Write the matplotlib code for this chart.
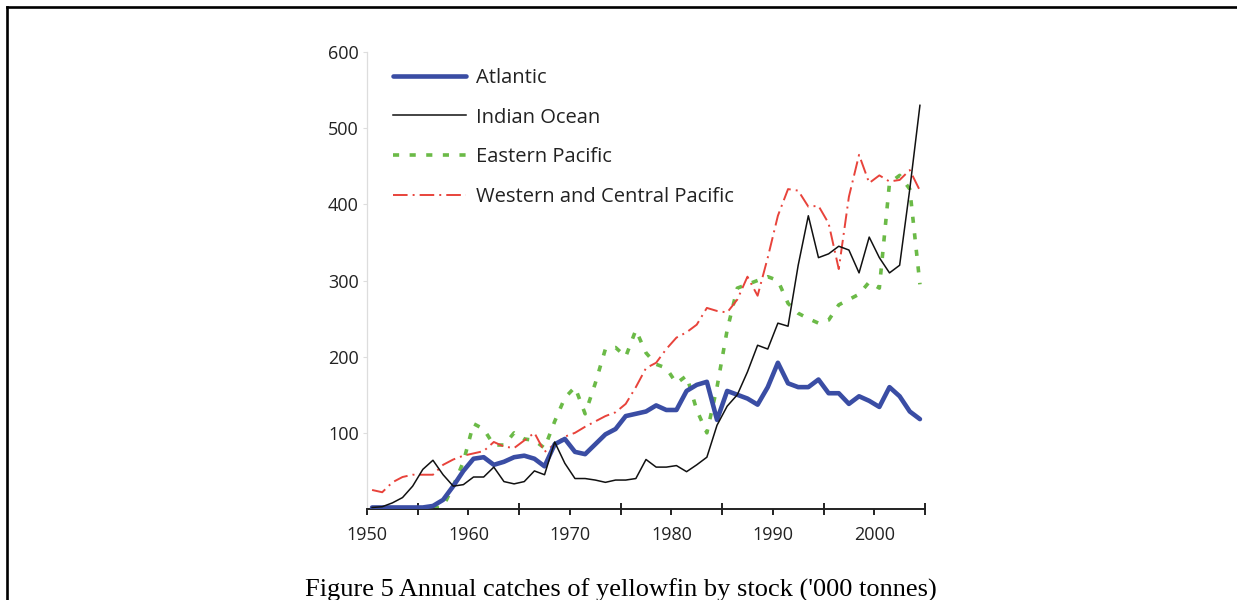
import matplotlib
matplotlib.use("Agg")
import matplotlib.pyplot as plt
from matplotlib.lines import Line2D
import numpy as np

# ---------------- data ----------------
years = list(range(1950, 2005))

atlantic = [2, 2, 2, 2, 2, 2, 4, 12, 30, 50,
            66, 68, 58, 62, 68, 70, 66, 56, 85, 92,
            75, 72, 85, 98, 105, 122, 125, 128, 136, 130,
            130, 155, 163, 167, 117, 155, 150, 145, 137, 160,
            192, 165, 160, 160, 170, 152, 152, 138, 148, 142,
            134, 160, 148, 128, 118]

indian = [2, 3, 8, 15, 30, 52, 64, 45, 30, 32,
          42, 42, 55, 36, 33, 36, 50, 45, 88, 60,
          40, 40, 38, 35, 38, 38, 40, 65, 55, 55,
          57, 49, 58, 68, 110, 135, 150, 180, 215, 210,
          244, 240, 320, 385, 330, 335, 345, 340, 310, 357,
          330, 310, 320, 420, 530]

eastern = [np.nan, np.nan, np.nan, np.nan, np.nan, np.nan, 1, 3, 30, 62,
           112, 105, 84, 84, 100, 92, 90, 80, 115, 146,
           160, 125, 165, 210, 212, 200, 235, 205, 190, 185,
           165, 175, 130, 100, 160, 235, 290, 295, 300, 305,
           300, 270, 257, 250, 244, 248, 268, 275, 282, 298,
           290, 428, 438, 420, 295]

western = [25, 22, 35, 42, 45, 45, 45, 58, 65, 70,
           73, 76, 88, 82, 80, 90, 100, 75, 85, 95,
           100, 108, 115, 122, 127, 138, 160, 185, 192, 210,
           225, 232, 242, 264, 260, 258, 275, 305, 280, 330,
           385, 420, 418, 397, 398, 375, 315, 410, 465, 428,
           438, 430, 432, 445, 418]

series_names = ["Atlantic", "Indian Ocean", "Eastern Pacific",
                "Western and Central Pacific"]
major_ticks = [1950, 1960, 1970, 1980, 1990, 2000]
minor_ticks = [1955, 1965, 1975, 1985, 1995, 2005]
y_ticks = [100, 200, 300, 400, 500, 600]
caption = "Figure 5 Annual catches of yellowfin by stock ('000 tonnes)"

# ---------------- figure ----------------
W, H = 1237, 600
fig = plt.figure(figsize=(W / 100, H / 100), dpi=100)
fig.patch.set_facecolor("white")

ax = fig.add_axes([367 / W, 1 - 509 / H, (925 - 367) / W, (509 - 52) / H])

x = np.array(years) + 0.5  # category centres

ax.plot(x, atlantic, color="#3A4DA4", lw=3.3, solid_capstyle="round",
        solid_joinstyle="round", label=series_names[0], zorder=3)
ax.plot(x, indian, color="#111111", lw=1.1, label=series_names[1], zorder=4)
ax.plot(x, eastern, color="#6BBA47", lw=2.6, linestyle=(0, (1.7, 2.9)),
        label=series_names[2], zorder=2)
ax.plot(x, western, color="#E8433B", lw=1.4,
        linestyle=(0, (7.5, 2.6, 1.0, 2.6)), label=series_names[3], zorder=2)

ax.set_xlim(1950, 2005)
ax.set_ylim(0, 600)

font = "Open Sans"
ax.set_xticks(major_ticks)
ax.set_xticklabels([str(t) for t in major_ticks], fontsize=13,
                   family=font, color="#222222")
ax.set_xticks(minor_ticks, minor=True)
ax.tick_params(axis="x", which="major", direction="out", length=4,
               width=1.4, color="#222222", pad=8)
ax.tick_params(axis="x", which="minor", direction="inout", length=8,
               width=1.4, color="#222222")

ax.set_yticks(y_ticks)
ax.set_yticklabels([str(t) for t in y_ticks], fontsize=13, family=font,
                   color="#222222")
ax.tick_params(axis="y", direction="out", length=3, width=0.8,
               color="#dddddd", pad=3)

for s in ["top", "right"]:
    ax.spines[s].set_visible(False)
ax.spines["left"].set_color("#dddddd")
ax.spines["left"].set_linewidth(0.9)
ax.spines["bottom"].set_color("#222222")
ax.spines["bottom"].set_linewidth(1.4)

leg = ax.legend(loc="upper left",
                bbox_to_anchor=(393 / W, 1 - 68 / H),
                bbox_transform=fig.transFigure,
                frameon=False, borderpad=0, borderaxespad=0,
                handlelength=3.6, handletextpad=0.5, labelspacing=0.97,
                prop={"family": font, "size": 14.5})
for t in leg.get_texts():
    t.set_color("#222222")

# caption
fig.text(621 / W, 1 - 597 / H, caption, ha="center", va="baseline",
         family="Liberation Serif", fontsize=19, color="black")

# page frame
fig.add_artist(Line2D([7 / W, 7 / W], [0, 1 - 7 / H], transform=fig.transFigure,
                      color="black", lw=1.9, solid_capstyle="projecting"))
fig.add_artist(Line2D([7 / W, 1], [1 - 7 / H, 1 - 7 / H], transform=fig.transFigure,
                      color="black", lw=1.9, solid_capstyle="projecting"))

fig.savefig("out.png", dpi=100, facecolor="white")
